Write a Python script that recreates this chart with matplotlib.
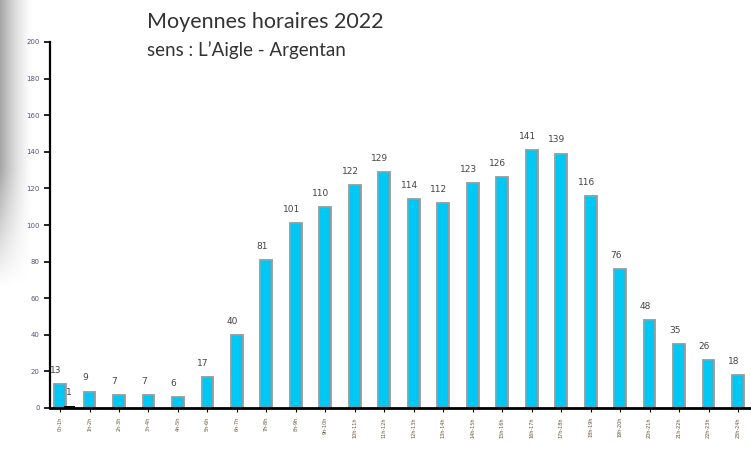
import numpy as np
import matplotlib.pyplot as plt

# moyennes horaires 2022, sens L'Aigle - Argentan
heures = ['0h-1h', '1h-2h', '2h-3h', '3h-4h', '4h-5h', '5h-6h', '6h-7h', '7h-8h',
          '8h-9h', '9h-10h', '10h-11h', '11h-12h', '12h-13h', '13h-14h', '14h-15h',
          '15h-16h', '16h-17h', '17h-18h', '18h-19h', '19h-20h', '20h-21h',
          '21h-22h', '22h-23h', '23h-24h']
vl = [13, 9, 7, 7, 6, 17, 40, 81, 101, 110, 122, 129, 114, 112, 123, 126,
      141, 139, 116, 76, 48, 35, 26, 18]
pl = [1, 0, 0, 0, 0, 0, 0, 0, 0, 0, 0, 0, 0, 0, 0, 0, 0, 0, 0, 0, 0, 0, 0, 0]

fig = plt.figure(figsize=(7.51, 4.51), dpi=100)

# ombre grise a gauche, qui s'efface vers le bas
sh = fig.add_axes([0, 0.25, 0.045, 0.75])
gx = np.linspace(0, 1, 64)
gy = np.linspace(0, 1, 128)
X, Y = np.meshgrid(gx, gy)
dark = (1 - X) ** 1.5 * np.clip((0.85 - Y) / 0.35, 0, 1) * 0.35
img = 1 - np.clip(dark, 0, 1)
sh.imshow(img, cmap='gray', vmin=0, vmax=1, aspect='auto', origin='upper')
sh.axis('off')

ax = fig.add_axes([50 / 751, 43 / 451, 701 / 751, 366 / 451])
x = np.arange(len(vl))
ax.bar(x, vl, width=0.4, color='#00C8F5', edgecolor='#9a9a9a', linewidth=1.3, zorder=2)
ax.bar(x + 0.32, pl, width=0.38, color='black', zorder=3)

for i, v in enumerate(vl):
    ax.text(i - 0.15, v + 5, str(v), ha='center', va='bottom', fontsize=6.5, color='#444444')
for i, v in enumerate(pl):
    if v > 0:
        ax.text(i + 0.3, v + 5, str(v), ha='center', va='bottom', fontsize=6.5, color='#444444')

ax.set_xlim(-0.34, 23.44)
ax.set_ylim(0, 200)
ax.set_yticks(range(0, 201, 20))
ax.tick_params(axis='y', labelsize=5, colors='black', labelcolor='#555577', length=4, width=1.2)
ax.set_xticks(x)
ax.set_xticklabels(heures, rotation=90, fontsize=3.5, color='#665533')
ax.tick_params(axis='x', length=3, width=0.8)
for s in ['top', 'right']:
    ax.spines[s].set_visible(False)
ax.spines['left'].set_linewidth(1.6)
ax.spines['bottom'].set_linewidth(2)

fig.text(147 / 751, 1 - 22 / 451, 'Moyennes horaires 2022', fontsize=15.5,
         family='Lato', color='#333333', va='center')
fig.text(147 / 751, 1 - 50 / 451, 'sens : L\u2019Aigle - Argentan', fontsize=13.5,
         family='Lato', color='#333333', va='center')

fig.savefig('out.png', dpi=100)
